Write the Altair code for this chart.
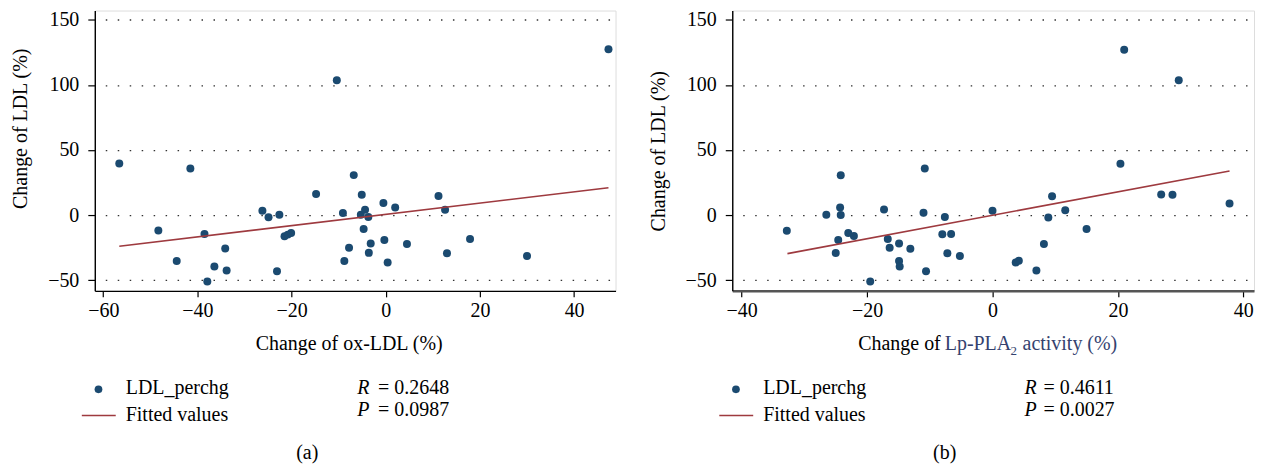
import altair as alt
import pandas as pd

# ---------------- data ----------------
# Panel (a): change of ox-LDL (%) vs change of LDL (%)
oxldl_change = [-56.6, -48.3, -44.4, -41.5, -38.5, -37.9, -36.4, -34.1, -33.8, -26.2,
                -24.9, -23.1, -22.6, -21.5, -20.8, -20.1, -14.8, -10.4, -9.1, -8.8,
                -7.8, -6.8, -5.1, -5.3, -4.7, -4.4, -3.7, -3.2, -3.6, -0.5,
                -0.3, 0.4, 2.0, 4.5, 11.2, 12.6, 13.0, 17.9, 30.0, 47.3]
ldl_change_a = [39.7, -11.9, -35.2, 35.8, -14.5, -51.0, -39.5, -25.7, -42.6, 3.4,
                -1.7, -43.1, 0.3, -16.3, -15.0, -13.7, 16.2, 103.5, 1.6, -35.2,
                -25.0, 30.7, 15.7, 0.3, -10.7, 4.1, -1.5, -21.9, -29.0, 9.2,
                -19.1, -36.5, 5.9, -22.2, 14.6, 4.1, -29.3, -18.3, -31.4, 127.3]
fit_a_x = [-56.6, 47.3]
fit_a_y = [-23.9, 21.0]

# Panel (b): change of Lp-PLA2 activity (%) vs change of LDL (%)
lppla2_change = [-32.8, -26.5, -25.0, -24.6, -24.2, -24.3, -24.2, -23.0, -22.1, -19.5,
                 -17.3, -16.7, -16.4, -14.9, -14.9, -14.8, -13.1, -11.0, -10.8, -10.6,
                 -8.0, -7.6, -7.2, -6.6, -5.2, 0.0, 3.7, 4.2, 7.0, 8.2,
                 8.9, 9.5, 11.6, 15.0, 20.4, 21.0, 26.9, 28.7, 29.7, 37.8]
ldl_change_b = [-12.0, 0.3, -29.1, -19.1, 30.6, 5.9, 0.0, -13.8, -16.1, -51.0,
                4.3, -18.4, -25.0, -21.9, -35.2, -39.5, -25.8, 1.8, 35.7, -43.1,
                -14.8, -1.5, -29.3, -14.5, -31.4, 3.3, -36.5, -35.0, -42.6, -22.2,
                -1.8, 14.5, 3.8, -10.7, 39.5, 127.0, 15.8, 15.6, 103.6, 8.9]
fit_b_x = [-32.7, 37.8]
fit_b_y = [-29.6, 33.9]

y_ticks = [-50, 0, 50, 100, 150]
x_ticks_a = [-60, -40, -20, 0, 20, 40]
x_ticks_b = [-40, -20, 0, 20, 40]

y_title = "Change of LDL (%)"
legend_points = "LDL_perchg"
legend_fit = "Fitted values"
stats_a = ["0.2648", "0.0987"]
stats_b = ["0.4611", "0.0027"]

# ---------------- styling ----------------
FONT = "Liberation Serif"
FS = 20
PT_COLOR = "#1b4a70"
LINE_COLOR = "#9e3a3f"
BLUE_TEXT = "#34426f"
W_A, W_B, H = 522, 523, 281
Y_DOM = [-58.2, 157.1]

one = pd.DataFrame({"k": [0]})


def txt(s, x, y, align="left", size=FS, color="black", style="normal"):
    return alt.Chart(one).mark_text(
        text=s, align=align, baseline="alphabetic", font=FONT,
        fontSize=size, color=color, fontStyle=style
    ).encode(x=alt.value(x), y=alt.value(y))


def panel(xs, ys, fx, fy, xdom, xticks, width, xdomain_color, xdomain_width,
          title_y, extra_layers):
    pts = pd.DataFrame({"x": xs, "y": ys})
    fit = pd.DataFrame({"x": fx, "y": fy})
    yaxis_kwargs = dict(
        values=y_ticks, title=y_title, grid=True, gridDash=[1.5, 10.5],
        gridDashOffset=1.5, gridColor="#333333", gridWidth=1.3, gridOpacity=1,
        domainColor="black", domainWidth=1.4, tickColor="black", tickSize=7,
        tickWidth=1.2, labelPadding=9, labelFont=FONT, labelFontSize=FS,
        labelColor="black", titleFont=FONT, titleFontSize=FS,
        titleFontWeight="normal", titleColor="black", titlePadding=17,
    )
    if title_y is not None:
        yaxis_kwargs["titleY"] = title_y
    xenc = alt.X("x:Q", scale=alt.Scale(domain=xdom, nice=False, zero=False),
                 axis=alt.Axis(values=xticks, title=None, grid=False,
                               domainColor=xdomain_color, domainWidth=xdomain_width,
                               tickColor="black", tickSize=6, tickWidth=1.2,
                               labelPadding=4, labelFont=FONT, labelFontSize=FS,
                               labelColor="black"))
    yenc = alt.Y("y:Q", scale=alt.Scale(domain=Y_DOM, nice=False, zero=False),
                 axis=alt.Axis(**yaxis_kwargs))
    scatter = alt.Chart(pts).mark_circle(size=64, color=PT_COLOR, opacity=1).encode(
        x=xenc, y=yenc)
    line = alt.Chart(fit).mark_line(color=LINE_COLOR, strokeWidth=1.6).encode(
        x="x:Q", y="y:Q")
    leg_pt = alt.Chart(one).mark_circle(size=60, color=PT_COLOR, opacity=1).encode(
        x=alt.value(3.7), y=alt.value(379.7))
    leg_line = alt.Chart(one).mark_rule(color=LINE_COLOR, strokeWidth=1.6).encode(
        x=alt.value(-13), x2=alt.value(21), y=alt.value(406))
    layers = [scatter, line, leg_pt, leg_line,
              txt(legend_points, 31, 384),
              txt(legend_fit, 31, 411)] + extra_layers
    return alt.layer(*layers).properties(width=width, height=H)


extra_a = [
    txt("Change of ox-LDL (%)", 255, 340, align="center"),
    txt("R", 263, 384, style="italic"),
    txt("= " + stats_a[0], 284, 384),
    txt("P", 263, 406, style="italic"),
    txt("= " + stats_a[1], 284, 406),
    txt("(a)", 213, 450, align="center"),
]
extra_b = [
    txt("Change of", 209, 340, align="right"),
    txt("Lp-PLA", 213, 340, color=BLUE_TEXT),
    txt("2", 279, 345, size=13, color=BLUE_TEXT),
    txt("activity (%)", 291, 340, color=BLUE_TEXT),
    txt("R", 293, 384, style="italic"),
    txt("= " + stats_b[0], 312, 384),
    txt("P", 293, 406, style="italic"),
    txt("= " + stats_b[1], 312, 406),
    txt("(b)", 213, 450, align="center"),
]

pa = panel(oxldl_change, ldl_change_a, fit_a_x, fit_a_y, [-61.8, 48.8], x_ticks_a,
           W_A, "black", 1.3, 118, extra_a)
pb = panel(lppla2_change, ldl_change_b, fit_b_x, fit_b_y, [-41.5, 41.7], x_ticks_b,
           W_B, "#555555", 2.5, None, extra_b)

chart = alt.hconcat(pa, pb, spacing=31).properties(
    padding={"left": 2, "top": 0, "right": 0, "bottom": 0}
).configure_view(stroke=None).configure(background="white")

chart.save("out.html", embed_options={"renderer": "svg", "actions": False})
